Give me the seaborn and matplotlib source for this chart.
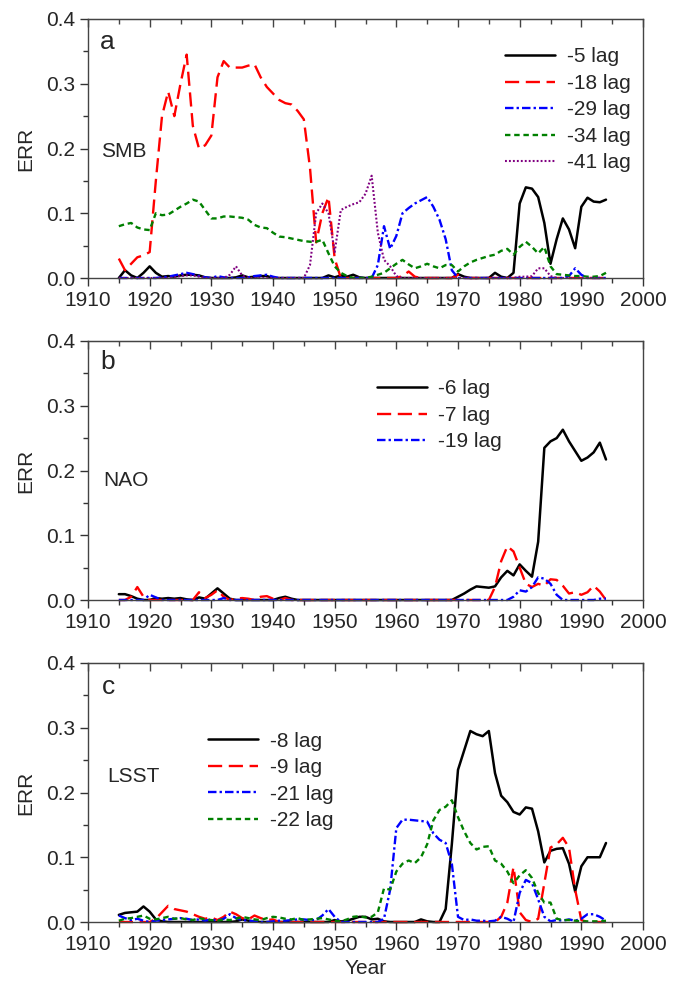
import numpy as np
import pandas as pd
import matplotlib
matplotlib.use("Agg")
import matplotlib.pyplot as plt
from matplotlib.ticker import MultipleLocator
import seaborn as sns

# ---------------- data ----------------
years = list(range(1915, 1995))

# panel a: SMB
smb_lag5 = [0.000, 0.012, 0.004, 0.000, 0.008, 0.018, 0.008, 0.002, 0.003, 0.002,
            0.004, 0.005, 0.005, 0.004, 0.001, 0.000, 0.000, 0.000, 0.000, 0.001,
            0.004, 0.001, 0.002, 0.003, 0.003, 0.000, 0.000, 0.000, 0.000, 0.000,
            0.000, 0.000, 0.000, 0.000, 0.004, 0.001, 0.004, 0.002, 0.005, 0.001,
            0.000, 0.000, 0.000, 0.000, 0.000, 0.000, 0.000, 0.000, 0.000, 0.000,
            0.000, 0.000, 0.000, 0.000, 0.000, 0.006, 0.002, 0.000, 0.000, 0.000,
            0.000, 0.008, 0.002, 0.000, 0.008, 0.115, 0.140, 0.138, 0.125, 0.085,
            0.022, 0.060, 0.092, 0.075, 0.046, 0.110, 0.124, 0.118, 0.117, 0.121]
smb_lag18 = [0.030, 0.012, 0.022, 0.032, 0.035, 0.040, 0.150, 0.250, 0.288, 0.250,
             0.300, 0.345, 0.235, 0.200, 0.205, 0.220, 0.310, 0.335, 0.325, 0.325,
             0.325, 0.328, 0.330, 0.310, 0.295, 0.285, 0.275, 0.270, 0.268, 0.258,
             0.245, 0.170, 0.055, 0.100, 0.125, 0.030, 0.000, 0.000, 0.000, 0.000,
             0.000, 0.000, 0.000, 0.000, 0.000, 0.000, 0.003, 0.010, 0.002, 0.000,
             0.000, 0.000, 0.000, 0.000, 0.000, 0.005, 0.000, 0.000, 0.000, 0.000,
             0.000, 0.000, 0.000, 0.000, 0.000, 0.000, 0.000, 0.000, 0.000, 0.000,
             0.000, 0.000, 0.000, 0.000, 0.000, 0.000, 0.000, 0.000, 0.000, 0.000]
smb_lag29 = [0.000, 0.000, 0.000, 0.000, 0.000, 0.000, 0.000, 0.001, 0.002, 0.004,
             0.006, 0.008, 0.006, 0.003, 0.001, 0.000, 0.003, 0.001, 0.000, 0.000,
             0.000, 0.001, 0.003, 0.004, 0.005, 0.002, 0.000, 0.000, 0.000, 0.000,
             0.000, 0.000, 0.000, 0.000, 0.000, 0.000, 0.000, 0.000, 0.000, 0.000,
             0.000, 0.000, 0.020, 0.080, 0.045, 0.065, 0.100, 0.108, 0.115, 0.120,
             0.125, 0.110, 0.090, 0.060, 0.012, 0.000, 0.000, 0.000, 0.000, 0.000,
             0.000, 0.000, 0.000, 0.000, 0.000, 0.000, 0.000, 0.000, 0.000, 0.000,
             0.000, 0.000, 0.000, 0.003, 0.015, 0.005, 0.000, 0.000, 0.000, 0.000]
smb_lag34 = [0.080, 0.083, 0.085, 0.078, 0.075, 0.074, 0.100, 0.097, 0.098, 0.104,
             0.110, 0.115, 0.121, 0.118, 0.105, 0.092, 0.092, 0.095, 0.095, 0.094,
             0.093, 0.090, 0.082, 0.078, 0.077, 0.070, 0.064, 0.063, 0.061, 0.059,
             0.057, 0.056, 0.056, 0.059, 0.038, 0.018, 0.008, 0.003, 0.000, 0.000,
             0.000, 0.002, 0.005, 0.008, 0.015, 0.022, 0.028, 0.021, 0.015, 0.018,
             0.022, 0.018, 0.015, 0.020, 0.020, 0.010, 0.018, 0.024, 0.028, 0.031,
             0.034, 0.036, 0.042, 0.045, 0.036, 0.048, 0.056, 0.048, 0.038, 0.048,
             0.018, 0.006, 0.005, 0.004, 0.003, 0.003, 0.002, 0.002, 0.003, 0.008]
smb_lag41 = [0.000, 0.000, 0.000, 0.000, 0.000, 0.000, 0.000, 0.000, 0.000, 0.001,
             0.003, 0.004, 0.004, 0.002, 0.000, 0.000, 0.000, 0.000, 0.005, 0.018,
             0.004, 0.000, 0.000, 0.000, 0.000, 0.000, 0.000, 0.000, 0.000, 0.000,
             0.000, 0.020, 0.100, 0.115, 0.100, 0.040, 0.105, 0.110, 0.114, 0.117,
             0.130, 0.158, 0.070, 0.028, 0.018, 0.003, 0.000, 0.000, 0.000, 0.000,
             0.000, 0.000, 0.000, 0.000, 0.000, 0.000, 0.000, 0.000, 0.000, 0.000,
             0.000, 0.000, 0.000, 0.000, 0.000, 0.002, 0.002, 0.003, 0.015, 0.015,
             0.003, 0.000, 0.000, 0.000, 0.000, 0.000, 0.000, 0.000, 0.000, 0.000]

# panel b: NAO
nao_lag6 = [0.009, 0.009, 0.006, 0.002, 0.000, 0.000, 0.003, 0.002, 0.003, 0.002,
            0.003, 0.001, 0.000, 0.004, 0.002, 0.010, 0.018, 0.010, 0.002, 0.000,
            0.000, 0.000, 0.000, 0.000, 0.000, 0.000, 0.003, 0.005, 0.002, 0.000,
            0.000, 0.000, 0.000, 0.000, 0.000, 0.000, 0.000, 0.000, 0.000, 0.000,
            0.000, 0.000, 0.000, 0.000, 0.000, 0.000, 0.000, 0.000, 0.000, 0.000,
            0.000, 0.000, 0.000, 0.000, 0.000, 0.005, 0.010, 0.016, 0.021, 0.020,
            0.019, 0.021, 0.035, 0.045, 0.038, 0.055, 0.045, 0.036, 0.090, 0.235,
            0.245, 0.250, 0.263, 0.245, 0.230, 0.215, 0.220, 0.228, 0.243, 0.217]
nao_lag7 = [0.000, 0.000, 0.005, 0.020, 0.005, 0.000, 0.000, 0.000, 0.000, 0.000,
            0.000, 0.000, 0.000, 0.012, 0.003, 0.008, 0.015, 0.005, 0.000, 0.002,
            0.003, 0.002, 0.000, 0.005, 0.006, 0.002, 0.000, 0.003, 0.000, 0.000,
            0.000, 0.000, 0.000, 0.000, 0.000, 0.000, 0.000, 0.000, 0.000, 0.000,
            0.000, 0.000, 0.000, 0.000, 0.000, 0.000, 0.000, 0.000, 0.000, 0.000,
            0.000, 0.000, 0.000, 0.000, 0.000, 0.000, 0.000, 0.000, 0.000, 0.000,
            0.000, 0.020, 0.060, 0.083, 0.075, 0.050, 0.025, 0.020, 0.025, 0.022,
            0.032, 0.031, 0.022, 0.010, 0.012, 0.008, 0.012, 0.022, 0.013, 0.000]
nao_lag19 = [0.000, 0.000, 0.000, 0.000, 0.000, 0.008, 0.004, 0.000, 0.000, 0.000,
             0.000, 0.000, 0.000, 0.000, 0.000, 0.000, 0.000, 0.003, 0.000, 0.000,
             0.000, 0.000, 0.000, 0.000, 0.000, 0.000, 0.000, 0.000, 0.000, 0.000,
             0.000, 0.000, 0.000, 0.000, 0.000, 0.000, 0.000, 0.000, 0.000, 0.000,
             0.000, 0.000, 0.000, 0.000, 0.000, 0.000, 0.000, 0.000, 0.000, 0.000,
             0.000, 0.000, 0.000, 0.000, 0.000, 0.000, 0.000, 0.000, 0.000, 0.000,
             0.000, 0.000, 0.000, 0.000, 0.005, 0.015, 0.013, 0.020, 0.035, 0.033,
             0.025, 0.008, 0.000, 0.000, 0.000, 0.000, 0.000, 0.000, 0.002, 0.002]

# panel c: LSST
lsst_lag8 = [0.011, 0.014, 0.015, 0.016, 0.024, 0.016, 0.004, 0.001, 0.000, 0.000,
             0.000, 0.000, 0.000, 0.000, 0.000, 0.000, 0.000, 0.000, 0.000, 0.001,
             0.004, 0.002, 0.001, 0.000, 0.000, 0.000, 0.000, 0.000, 0.000, 0.000,
             0.000, 0.000, 0.000, 0.000, 0.000, 0.003, 0.001, 0.002, 0.005, 0.008,
             0.008, 0.004, 0.005, 0.001, 0.000, 0.000, 0.000, 0.000, 0.000, 0.004,
             0.001, 0.000, 0.000, 0.020, 0.120, 0.235, 0.265, 0.295, 0.290, 0.287,
             0.295, 0.230, 0.195, 0.185, 0.170, 0.166, 0.177, 0.175, 0.140, 0.092,
             0.110, 0.113, 0.114, 0.090, 0.047, 0.086, 0.100, 0.100, 0.100, 0.122]
lsst_lag9 = [0.000, 0.000, 0.000, 0.000, 0.000, 0.000, 0.005, 0.015, 0.025, 0.020,
             0.018, 0.016, 0.012, 0.008, 0.005, 0.007, 0.003, 0.008, 0.016, 0.012,
             0.006, 0.004, 0.010, 0.006, 0.003, 0.004, 0.000, 0.000, 0.000, 0.000,
             0.000, 0.000, 0.000, 0.000, 0.000, 0.000, 0.000, 0.000, 0.000, 0.000,
             0.000, 0.000, 0.000, 0.000, 0.000, 0.000, 0.000, 0.000, 0.000, 0.000,
             0.000, 0.000, 0.000, 0.000, 0.000, 0.000, 0.000, 0.000, 0.000, 0.000,
             0.000, 0.000, 0.008, 0.030, 0.085, 0.015, 0.003, 0.000, 0.005, 0.060,
             0.115, 0.120, 0.130, 0.115, 0.050, 0.003, 0.000, 0.000, 0.000, 0.000]
lsst_lag21 = [0.010, 0.006, 0.003, 0.005, 0.002, 0.000, 0.002, 0.003, 0.004, 0.005,
              0.006, 0.005, 0.003, 0.004, 0.002, 0.004, 0.002, 0.005, 0.012, 0.006,
              0.003, 0.002, 0.001, 0.000, 0.000, 0.001, 0.002, 0.002, 0.003, 0.004,
              0.004, 0.003, 0.003, 0.010, 0.020, 0.008, 0.000, 0.000, 0.000, 0.000,
              0.000, 0.000, 0.000, 0.005, 0.050, 0.145, 0.158, 0.158, 0.157, 0.156,
              0.155, 0.137, 0.127, 0.122, 0.090, 0.008, 0.003, 0.004, 0.002, 0.002,
              0.001, 0.002, 0.008, 0.005, 0.000, 0.045, 0.065, 0.060, 0.035, 0.008,
              0.001, 0.003, 0.002, 0.004, 0.002, 0.005, 0.012, 0.012, 0.008, 0.002]
lsst_lag22 = [0.002, 0.005, 0.006, 0.008, 0.010, 0.005, 0.004, 0.006, 0.008, 0.005,
              0.006, 0.004, 0.003, 0.006, 0.004, 0.003, 0.002, 0.004, 0.003, 0.005,
              0.008, 0.006, 0.004, 0.003, 0.006, 0.008, 0.007, 0.005, 0.004, 0.006,
              0.003, 0.004, 0.005, 0.006, 0.004, 0.002, 0.001, 0.004, 0.008, 0.009,
              0.007, 0.008, 0.015, 0.052, 0.050, 0.078, 0.090, 0.095, 0.091, 0.100,
              0.120, 0.157, 0.173, 0.178, 0.188, 0.162, 0.140, 0.122, 0.112, 0.116,
              0.117, 0.095, 0.090, 0.078, 0.060, 0.072, 0.080, 0.068, 0.045, 0.030,
              0.030, 0.005, 0.003, 0.003, 0.002, 0.001, 0.001, 0.001, 0.001, 0.002]

labels_a = ["-5 lag", "-18 lag", "-29 lag", "-34 lag", "-41 lag"]
labels_b = ["-6 lag", "-7 lag", "-19 lag"]
labels_c = ["-8 lag", "-9 lag", "-21 lag", "-22 lag"]

# ---------------- styles ----------------
STY = {
    "solid":   dict(color="black", lw=1.8, ls="-"),
    "dash":    dict(color="#ff0000", lw=1.7, ls=(0, (6.0, 2.8))),
    "dashdot": dict(color="#0000ff", lw=1.7, ls=(0, (3.6, 1.3, 1.0, 1.3))),
    "short":   dict(color="#008000", lw=1.7, ls=(0, (2.3, 1.6))),
    "dot":     dict(color="#800080", lw=1.5, ls=(0, (0.9, 1.0))),
}

sns.set_style("ticks")
plt.rcParams["font.family"] = ["Liberation Sans", "DejaVu Sans"]
FS = 15

fig = plt.figure(figsize=(6.83, 9.86), dpi=100)
L, W, H = 88 / 683, 555 / 683, 259 / 986
bottoms = [1 - 278 / 986, 1 - 600 / 986, 1 - 922 / 986]

panels = [
    ("a", "SMB", [smb_lag5, smb_lag18, smb_lag29, smb_lag34, smb_lag41], labels_a,
     ["solid", "dash", "dashdot", "short", "dot"], (0.752, 0.89), (0.022, 0.913), (0.024, 0.49)),
    ("b", "NAO", [nao_lag6, nao_lag7, nao_lag19], labels_b,
     ["solid", "dash", "dashdot"], (0.52, 0.852), (0.022, 0.918), (0.027, 0.463)),
    ("c", "LSST", [lsst_lag8, lsst_lag9, lsst_lag21, lsst_lag22], labels_c,
     ["solid", "dash", "dashdot", "short"], (0.217, 0.735), (0.025, 0.908), (0.035, 0.561)),
]

for i, (letter, name, series, labs, styles, leg_xy, let_xy, name_xy) in enumerate(panels):
    ax = fig.add_axes([L, bottoms[i], W, H])
    for vals, lab, st in zip(series, labs, styles):
        s = STY[st]
        df = pd.DataFrame({"Year": years, "ERR": vals})
        sns.lineplot(data=df, x="Year", y="ERR", ax=ax, color=s["color"], lw=s["lw"],
                     linestyle=s["ls"], label=lab, legend=False, clip_on=False,
                     errorbar=None)
    ax.set_xlim(1910, 2000)
    ax.set_ylim(0, 0.4)
    ax.set_xticks(range(1910, 2001, 10))
    ax.set_yticks([0.0, 0.1, 0.2, 0.3, 0.4])
    ax.set_yticklabels(["0.0", "0.1", "0.2", "0.3", "0.4"])
    ax.xaxis.set_minor_locator(MultipleLocator(5))
    ax.yaxis.set_minor_locator(MultipleLocator(0.05))
    ax.tick_params(which="both", direction="out", top=False, right=False,
                   labelsize=FS, color="#333333", width=1)
    ax.tick_params(which="major", length=6, pad=3)
    ax.tick_params(which="minor", length=3.5)
    for sp in ax.spines.values():
        sp.set_visible(True)
        sp.set_color("#444444")
        sp.set_linewidth(1.0)
    sec = ax.secondary_xaxis("top")
    sec.set_xticks(range(1910, 2001, 10))
    sec.xaxis.set_minor_locator(MultipleLocator(5))
    sec.tick_params(which="both", direction="in", labeltop=False, color="#444444", width=1)
    sec.tick_params(which="major", length=6)
    sec.tick_params(which="minor", length=3.5)
    sec.spines["top"].set_color("#444444")

    ax.set_ylabel("ERR", fontsize=FS, labelpad=8)
    if i == 2:
        ax.set_xlabel("Year", fontsize=FS, labelpad=4)
    else:
        ax.set_xlabel("")

    ax.text(let_xy[0], let_xy[1], letter, transform=ax.transAxes, fontsize=19,
            va="center", ha="left")
    ax.text(name_xy[0], name_xy[1], name, transform=ax.transAxes, fontsize=FS,
            va="center", ha="left")

    handles = ax.get_lines()[:len(labs)]
    ax.legend(handles, labs, loc="upper left", bbox_to_anchor=leg_xy, frameon=False,
              fontsize=FS, handlelength=2.4, handletextpad=0.55, labelspacing=0.36,
              borderpad=0, borderaxespad=0)

fig.savefig("out.png", dpi=100)
